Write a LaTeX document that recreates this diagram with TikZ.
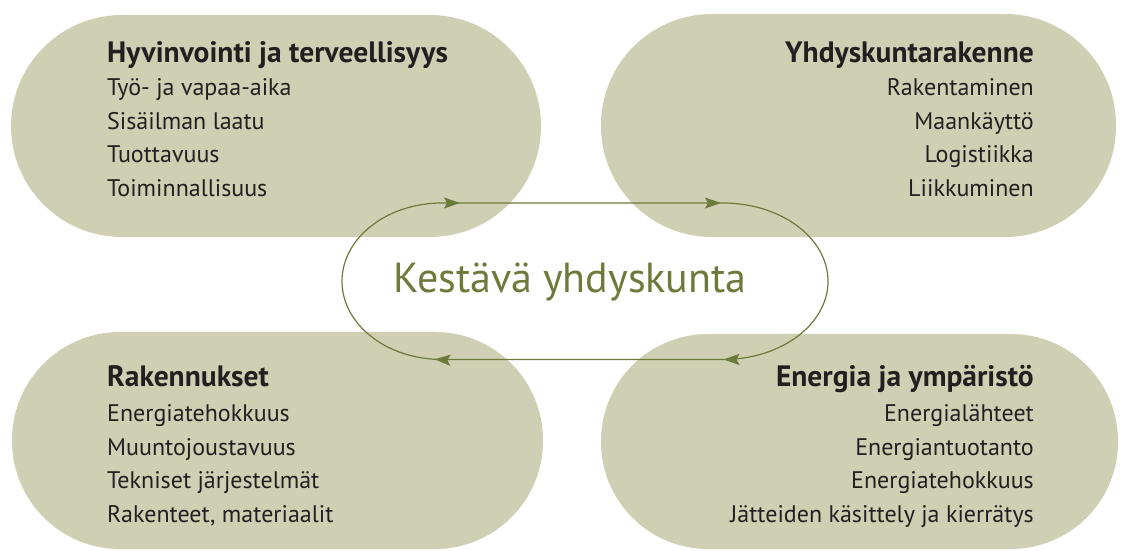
\documentclass[tikz,border=0pt]{standalone}
\usepackage{fontspec}
\setmainfont{PT Sans}
\usetikzlibrary{arrows.meta,decorations.markings}
\definecolor{blob}{RGB}{207,208,179}
\definecolor{olive}{RGB}{108,122,58}
\definecolor{txt}{RGB}{35,31,32}
\tikzset{
  blobshape/.style={fill=blob},
  titletext/.style={font=\bfseries\fontsize{29.5}{34}\selectfont, text=txt, inner sep=0pt},
  itemtext/.style={font=\fontsize{24}{29}\selectfont, text=txt, inner sep=0pt},
  centertext/.style={font=\fontsize{42}{48}\selectfont, text=olive, inner sep=0pt},
  looparrow/.style={draw=olive, line width=1.2pt},
  tipa/.tip={Stealth[length=16pt, width=11pt, inset=3pt, olive]}
}
\begin{document}
\begin{tikzpicture}[x=1pt, y=1pt]
\useasboundingbox (0,0) rectangle (1122,551);
\fill[white] (0,0) rectangle (1122,551);
% stadium shapes
\fill[blobshape, rounded corners=111pt] (11,314) rectangle (541,536);
\fill[blobshape, rounded corners=111pt] (601,314) rectangle (1116,537);
\fill[blobshape, rounded corners=108pt] (12,2) rectangle (543,219);
\fill[blobshape, rounded corners=107pt] (601,2) rectangle (1118,217);

% top-left texts
\node[titletext, anchor=base west] (tlt) at (107,488) {Hyvinvointi ja terveellisyys};
\node[itemtext, anchor=base west] (tl1) at (107,455) {Työ- ja vapaa-aika};
\node[itemtext, anchor=base west] (tl2) at (107,421.5) {Sisäilman laatu};
\node[itemtext, anchor=base west] (tl3) at (107,388) {Tuottavuus};
\node[itemtext, anchor=base west] (tl4) at (107,354.5) {Toiminnallisuus};

% top-right texts
\node[titletext, anchor=base east] (trt) at (1034,488) {Yhdyskuntarakenne};
\node[itemtext, anchor=base east] (tr1) at (1034,455) {Rakentaminen};
\node[itemtext, anchor=base east] (tr2) at (1034,421.5) {Maankäyttö};
\node[itemtext, anchor=base east] (tr3) at (1034,388) {Logistiikka};
\node[itemtext, anchor=base east] (tr4) at (1034,354.5) {Liikkuminen};

% bottom-left texts
\node[titletext, anchor=base west] (blt) at (107,164) {Rakennukset};
\node[itemtext, anchor=base west] (bl1) at (107,129) {Energiatehokkuus};
\node[itemtext, anchor=base west] (bl2) at (107,95.5) {Muuntojoustavuus};
\node[itemtext, anchor=base west] (bl3) at (107,62) {Tekniset järjestelmät};
\node[itemtext, anchor=base west] (bl4) at (107,28.5) {Rakenteet, materiaalit};

% bottom-right texts
\node[titletext, anchor=base east] (brt) at (1034,164) {Energia ja ympäristö};
\node[itemtext, anchor=base east] (br1) at (1034,129) {Energialähteet};
\node[itemtext, anchor=base east] (br2) at (1034,95.5) {Energiantuotanto};
\node[itemtext, anchor=base east] (br3) at (1034,62) {Energiatehokkuus};
\node[itemtext, anchor=base east] (br4) at (1034,28.5) {Jätteiden käsittely ja kierrätys};

% centre
\node[centertext, anchor=base] (center) at (570,258) {Kestävä yhdyskunta};

% loop
\coordinate (lt) at (442,348);
\coordinate (rt) at (723,348);
\coordinate (rb) at (723,191.5);
\coordinate (lb) at (442,191.5);
\draw[looparrow, postaction={decorate}, decoration={markings,
    mark=at position 18pt with {\arrow{tipa}},
    mark=at position 279pt with {\arrow{tipa}},
    mark=at position 570pt with {\arrow{tipa}},
    mark=at position 859pt with {\arrow{tipa}}}]
  (lt) -- (rt) arc[start angle=90, end angle=-90, x radius=105, y radius=78.25]
  -- (lb) arc[start angle=270, end angle=90, x radius=100, y radius=78.25] -- cycle;
\end{tikzpicture}
\end{document}
